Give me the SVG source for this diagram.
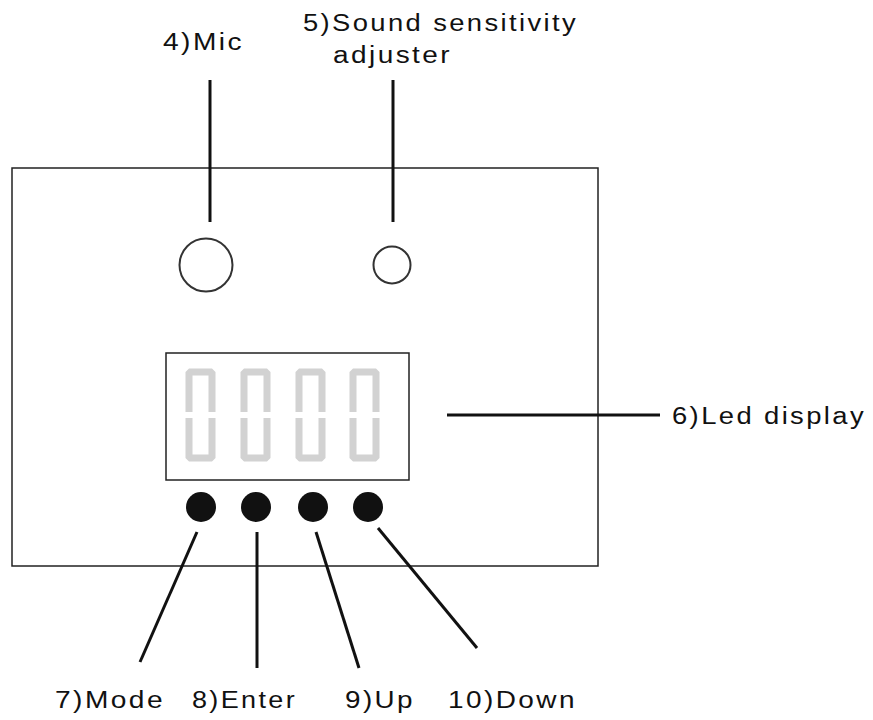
<svg xmlns="http://www.w3.org/2000/svg" width="873" height="720" viewBox="0 0 873 720">
<style>
.t{font-family:"Liberation Sans",Arial,sans-serif;font-size:23px;fill:#111;letter-spacing:2px}
.box{fill:none;stroke:#222;stroke-width:1.5}
.lead{stroke:#111;stroke-width:3;fill:none}
.seg{fill:none;stroke:#d2d2d2;stroke-width:7;stroke-linejoin:bevel}
.btn{fill:#111}
</style>
<rect width="873" height="720" fill="#fff"/>
<g id="panel"><rect class="box" x="12" y="168" width="586" height="398"/></g>
<g id="mic"><circle cx="206" cy="265" r="26.5" fill="none" stroke="#333" stroke-width="2"/></g>
<g id="adjuster"><circle cx="392" cy="265" r="18.5" fill="none" stroke="#333" stroke-width="2"/></g>
<g id="display">
<rect class="box" x="166" y="353" width="243" height="127"/>
<path class="seg" d="M189,412V372H212V412M189,418V458H212V418"/>
<path class="seg" d="M244,412V372H267V412M244,418V458H267V418"/>
<path class="seg" d="M299,412V372H322V412M299,418V458H322V418"/>
<path class="seg" d="M353,412V372H376V412M353,418V458H376V418"/>
</g>
<g id="btn-mode"><circle class="btn" cx="201" cy="507" r="15"/></g>
<g id="btn-enter"><circle class="btn" cx="256" cy="507" r="15"/></g>
<g id="btn-up"><circle class="btn" cx="313" cy="507" r="15"/></g>
<g id="btn-down"><circle class="btn" cx="368" cy="507" r="15"/></g>
<g id="connectors">
<line class="lead" x1="210" y1="80" x2="210" y2="222"/>
<line class="lead" x1="393" y1="80" x2="393" y2="222"/>
<line class="lead" x1="447" y1="415" x2="660" y2="415"/>
<line class="lead" x1="197" y1="532" x2="140" y2="662"/>
<line class="lead" x1="257" y1="532" x2="257" y2="668"/>
<line class="lead" x1="316" y1="532" x2="359" y2="668"/>
<line class="lead" x1="378" y1="528" x2="477" y2="648"/>
</g>
<g id="labels">
<text class="t" x="163" y="50" textLength="81" lengthAdjust="spacingAndGlyphs">4)Mic</text>
<text class="t" x="303" y="31" textLength="275" lengthAdjust="spacingAndGlyphs">5)Sound sensitivity</text>
<text class="t" x="333" y="63" textLength="119" lengthAdjust="spacingAndGlyphs">adjuster</text>
<text class="t" x="672" y="424" textLength="194" lengthAdjust="spacingAndGlyphs">6)Led display</text>
<text class="t" x="55" y="708" textLength="110" lengthAdjust="spacingAndGlyphs">7)Mode</text>
<text class="t" x="192" y="708" textLength="105" lengthAdjust="spacingAndGlyphs">8)Enter</text>
<text class="t" x="345" y="708" textLength="70" lengthAdjust="spacingAndGlyphs">9)Up</text>
<text class="t" x="448" y="708" textLength="129" lengthAdjust="spacingAndGlyphs">10)Down</text>
</g>
</svg>
